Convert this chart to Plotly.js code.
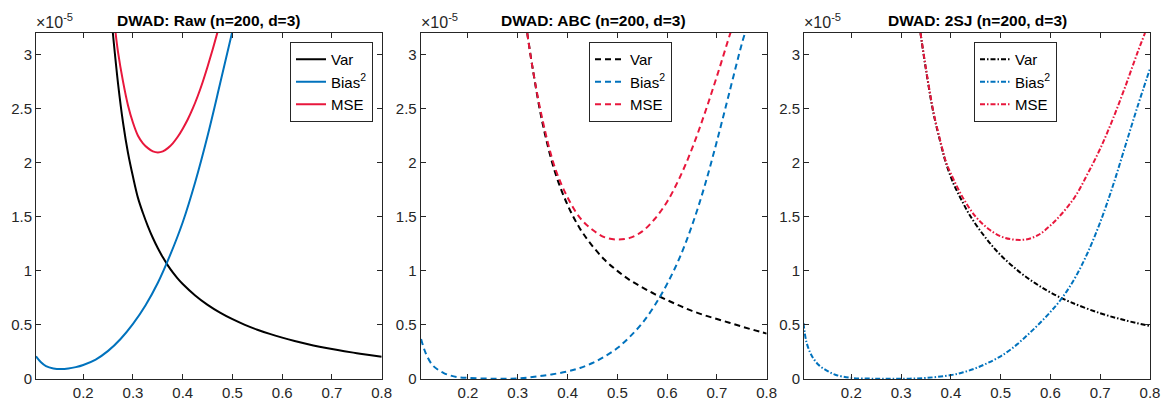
<!DOCTYPE html>
<html>
<head>
<meta charset="utf-8">
<script src="https://cdn.plot.ly/plotly-3.0.1.min.js"></script>
<style>html,body{margin:0;padding:0;background:#fff;}#chart{width:1167px;height:407px;}</style>
</head>
<body>
<div id="chart"></div>
<script>
// ---- Data (values in units of 1e-5) ----
const panelTitles = ["DWAD: Raw (n=200, d=3)", "DWAD: ABC (n=200, d=3)", "DWAD: 2SJ (n=200, d=3)"];
const seriesNames = ["Var", "Bias<sup>2</sup>", "MSE"];
const xTicks = [0.2, 0.3, 0.4, 0.5, 0.6, 0.7, 0.8];
const yTicks = [0, 0.5, 1, 1.5, 2, 2.5, 3];
const yTickText = ["0", "0.5", "1", "1.5", "2", "2.5", "3"];

// Panel 1: Raw
const rawVarX  = [0.2595, 0.27, 0.28, 0.29, 0.3, 0.31, 0.32, 0.33, 0.34, 0.35, 0.36, 0.37, 0.38, 0.39, 0.4, 0.425, 0.45, 0.475, 0.5, 0.525, 0.55, 0.575, 0.6, 0.625, 0.65, 0.675, 0.7, 0.725, 0.75, 0.775, 0.8];
const rawVarY  = [3.2, 2.73, 2.37, 2.09, 1.87, 1.675, 1.535, 1.412, 1.304, 1.209, 1.125, 1.051, 0.986, 0.929, 0.879, 0.773, 0.686, 0.614, 0.553, 0.501, 0.456, 0.417, 0.383, 0.352, 0.324, 0.299, 0.277, 0.257, 0.239, 0.222, 0.206];
const rawBiasX = [0.105, 0.115, 0.125, 0.14, 0.155, 0.17, 0.185, 0.2, 0.225, 0.25, 0.275, 0.3, 0.325, 0.35, 0.375, 0.4, 0.425, 0.45, 0.475, 0.5];
const rawBiasY = [0.21, 0.155, 0.12, 0.098, 0.092, 0.097, 0.11, 0.13, 0.18, 0.26, 0.37, 0.51, 0.68, 0.89, 1.15, 1.45, 1.82, 2.25, 2.73, 3.22];
const rawMseX  = [0.265, 0.27, 0.28, 0.29, 0.3, 0.31, 0.32, 0.33, 0.34, 0.35, 0.36, 0.37, 0.38, 0.39, 0.4, 0.41, 0.42, 0.43, 0.44, 0.45, 0.46, 0.47];
const rawMseY  = [3.2, 3.02, 2.75, 2.53, 2.37, 2.25, 2.18, 2.135, 2.105, 2.095, 2.105, 2.135, 2.18, 2.24, 2.315, 2.40, 2.50, 2.615, 2.745, 2.89, 3.045, 3.21];

// Panel 2: ABC
const abcVarX  = [0.319, 0.33, 0.35, 0.375, 0.4, 0.425, 0.45, 0.475, 0.5, 0.525, 0.55, 0.575, 0.6, 0.625, 0.65, 0.675, 0.7, 0.725, 0.75, 0.775, 0.8];
const abcVarY  = [3.2, 2.87, 2.36, 1.91, 1.61, 1.39, 1.23, 1.10, 1.00, 0.915, 0.848, 0.785, 0.73, 0.678, 0.63, 0.59, 0.555, 0.52, 0.485, 0.452, 0.42];
const abcBiasX = [0.1057, 0.115, 0.128, 0.14, 0.1514, 0.165, 0.178, 0.2, 0.25, 0.3, 0.35, 0.4, 0.425, 0.45, 0.475, 0.5, 0.525, 0.55, 0.575, 0.6, 0.625, 0.65, 0.675, 0.7, 0.725, 0.75, 0.7565];
const abcBiasY = [0.37, 0.24, 0.132, 0.085, 0.055, 0.032, 0.018, 0.01, 0.003, 0.005, 0.03, 0.07, 0.102, 0.148, 0.21, 0.286, 0.39, 0.517, 0.68, 0.88, 1.12, 1.42, 1.78, 2.20, 2.65, 3.10, 3.2];
const abcMseX  = [0.319, 0.33, 0.35, 0.375, 0.4, 0.425, 0.45, 0.475, 0.5, 0.525, 0.55, 0.575, 0.6, 0.625, 0.65, 0.675, 0.7, 0.725, 0.73];
const abcMseY  = [3.2, 2.87, 2.39, 1.95, 1.68, 1.49, 1.38, 1.31, 1.29, 1.305, 1.365, 1.48, 1.64, 1.86, 2.13, 2.45, 2.80, 3.17, 3.24];

// Panel 3: 2SJ
const sjVarX  = [0.339, 0.35, 0.365, 0.38, 0.39, 0.405, 0.422, 0.44, 0.47, 0.5, 0.5376, 0.57, 0.6, 0.64, 0.7, 0.75, 0.8];
const sjVarY  = [3.2, 2.86, 2.46, 2.17, 2.0, 1.81, 1.65, 1.50, 1.305, 1.146, 0.991, 0.884, 0.80, 0.712, 0.608, 0.543, 0.49];
const sjBiasX = [0.104, 0.11, 0.12, 0.134, 0.15, 0.1677, 0.2, 0.25, 0.3, 0.35, 0.4, 0.425, 0.45, 0.475, 0.5, 0.525, 0.55, 0.575, 0.6, 0.625, 0.65, 0.675, 0.7, 0.725, 0.75, 0.775, 0.8];
const sjBiasY = [0.517, 0.34, 0.22, 0.132, 0.08, 0.04, 0.01, 0.003, 0.002, 0.01, 0.036, 0.062, 0.10, 0.15, 0.21, 0.29, 0.39, 0.50, 0.62, 0.76, 0.94, 1.17, 1.45, 1.78, 2.15, 2.52, 2.87];
const sjMseX  = [0.339, 0.35, 0.365, 0.38, 0.39, 0.4, 0.425, 0.45, 0.475, 0.5, 0.525, 0.55, 0.575, 0.6, 0.625, 0.65, 0.675, 0.7, 0.725, 0.75, 0.775, 0.79];
const sjMseY  = [3.2, 2.87, 2.47, 2.18, 2.01, 1.90, 1.67, 1.50, 1.39, 1.32, 1.29, 1.29, 1.33, 1.42, 1.54, 1.69, 1.90, 2.13, 2.40, 2.70, 3.02, 3.2];

// ---- Styling ----
const colors = ["#000000", "#0072BD", "#E8173C"];
const dashes = ["solid", "6px,4px", "5px,2px,1.5px,2px"];
const panels = [
  [[rawVarX, rawVarY], [rawBiasX, rawBiasY], [rawMseX, rawMseY]],
  [[abcVarX, abcVarY], [abcBiasX, abcBiasY], [abcMseX, abcMseY]],
  [[sjVarX, sjVarY], [sjBiasX, sjBiasY], [sjMseX, sjMseY]]
];
const axSuffix = ["", "2", "3"];
const legendIds = ["legend", "legend2", "legend3"];

const traces = [];
panels.forEach((p, pi) => {
  p.forEach((s, si) => {
    traces.push({
      x: s[0], y: s[1], type: "scatter", mode: "lines",
      name: seriesNames[si],
      xaxis: "x" + axSuffix[pi], yaxis: "y" + axSuffix[pi],
      legend: legendIds[pi],
      line: {color: colors[si], width: 2, dash: dashes[pi], shape: "spline", smoothing: 1},
      hoverinfo: "skip"
    });
  });
});

const font = "Liberation Sans, Arial, Helvetica, sans-serif";
const W = 1167, L = 36, R = 17, T = 33, B = 28, H = 407;
const plotW = W - L - R, plotH = H - T - B;
const px = v => (v - L) / plotW;
const py = v => (H - B - v) / plotH;
const domains = [[px(36), px(381.7)], [px(420.7), px(766.7)], [px(804), px(1150)]];

const layout = {
  width: W, height: H,
  margin: {l: L, r: R, t: T, b: B, pad: 0},
  paper_bgcolor: "#ffffff", plot_bgcolor: "#ffffff",
  showlegend: true,
  annotations: [],
  font: {family: font, color: "#262626"}
};
const legendX = [px(290), px(589), px(974)];
domains.forEach((d, i) => {
  const s = axSuffix[i];
  const axCommon = {
    ticks: "inside", ticklen: 5, tickcolor: "#262626",
    showline: true, linecolor: "#262626", linewidth: 1, mirror: "ticks",
    showgrid: false, zeroline: false,
    tickfont: {family: font, size: 15, color: "#262626"}
  };
  layout["xaxis" + s] = Object.assign({
    domain: d, range: [0.105, 0.8], anchor: "y" + s, tickvals: xTicks
  }, axCommon);
  layout["yaxis" + s] = Object.assign({
    domain: [0, 1], range: [0, 3.2], anchor: "x" + s, tickvals: yTicks, ticktext: yTickText
  }, axCommon);
  layout.annotations.push({
    text: "<b>" + panelTitles[i] + "</b>", xref: "x" + s + " domain", yref: "paper",
    x: 0.5, y: 1, xanchor: "center", yanchor: "bottom", yshift: 2, showarrow: false,
    font: {family: font, size: 15.5, color: "#000000"}
  });
  layout.annotations.push({
    text: "×10<sup>-5</sup>", xref: "x" + s + " domain", yref: "paper",
    x: 0, y: 1, xanchor: "left", yanchor: "bottom", yshift: 0, xshift: -2, showarrow: false,
    font: {family: font, size: 16, color: "#262626"}
  });
  layout[legendIds[i]] = {
    x: legendX[i], y: py(42), xanchor: "left", yanchor: "top",
    xref: "paper", yref: "paper",
    bgcolor: "#ffffff", bordercolor: "#262626", borderwidth: 1,
    font: {family: font, size: 15, color: "#000000"},
    tracegroupgap: 0, itemwidth: 30
  };
});

Plotly.newPlot("chart", traces, layout, {displayModeBar: false, staticPlot: true});
</script>
</body>
</html>
